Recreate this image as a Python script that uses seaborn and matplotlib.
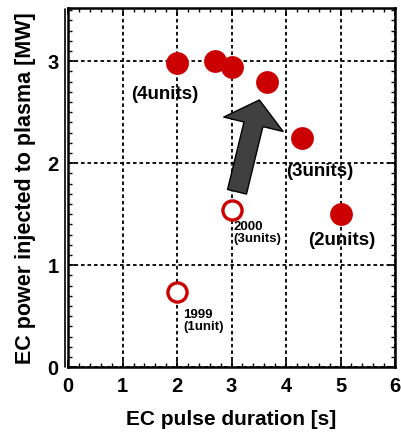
import matplotlib
matplotlib.use("Agg")
import matplotlib.pyplot as plt
import seaborn as sns
import pandas as pd
from matplotlib.lines import Line2D
from matplotlib.ticker import MultipleLocator

# Achieved EC operation: pulse duration [s] vs. injected power [MW]
recent_duration = [2.0, 2.7, 3.0, 3.65, 4.3, 5.0]
recent_power = [2.98, 3.0, 2.94, 2.8, 2.25, 1.5]

early_duration = [2.0, 3.0]
early_power = [0.74, 1.54]

x_ticks = [0, 1, 2, 3, 4, 5, 6]
y_ticks = [0, 1, 2, 3]

red = "#CC0000"

sns.set_theme(style="white")
plt.rcParams["font.family"] = ["Liberation Sans", "DejaVu Sans"]
plt.rcParams["font.weight"] = "bold"
plt.rcParams["text.color"] = "black"
plt.rcParams["axes.labelcolor"] = "black"
plt.rcParams["xtick.color"] = "black"
plt.rcParams["ytick.color"] = "black"

fig = plt.figure(figsize=(4.01, 4.32), dpi=100)
ax = fig.add_axes([0.170, 0.150, 0.815, 0.831])

recent = pd.DataFrame({"duration": recent_duration, "power": recent_power})
early = pd.DataFrame({"duration": early_duration, "power": early_power})

sns.scatterplot(data=recent, x="duration", y="power", ax=ax, s=270,
                color=red, edgecolor=red, linewidth=0, zorder=4)
sns.scatterplot(data=early, x="duration", y="power", ax=ax, s=190,
                facecolor="white", edgecolor=red, linewidth=2.4, zorder=4)

ax.set_xlim(0, 6)
ax.set_ylim(0, 3.52)
ax.set_xticks(x_ticks)
ax.set_yticks(y_ticks)
ax.xaxis.set_minor_locator(MultipleLocator(0.2))
ax.yaxis.set_minor_locator(MultipleLocator(0.1))
ax.tick_params(which="both", direction="in", top=True, right=True,
               bottom=True, left=True, color="black", labelcolor="black")
ax.tick_params(which="major", length=5, width=1.2, labelsize=14.5, pad=7)
ax.tick_params(which="minor", length=3, width=1.0)
for lbl in ax.get_xticklabels() + ax.get_yticklabels():
    lbl.set_fontweight("bold")

ax.grid(True, which="major", color="black", linestyle=(0, (2, 1.6)),
        linewidth=1.3, zorder=1)
ax.set_axisbelow(True)
for sp in ax.spines.values():
    sp.set_color("black")
    sp.set_linewidth(1.8)

# second thin rule just outside the left spine
ax.add_line(Line2D([-0.009, -0.009], [0, 0.997], transform=ax.transAxes,
                   color="black", linewidth=1.2, clip_on=False))

ax.set_xlabel("EC pulse duration [s]", fontsize=15, fontweight="bold",
              labelpad=10, color="black")
ax.set_ylabel("EC power injected to plasma [MW]", fontsize=15.5,
              fontweight="bold", labelpad=8, color="black")

# Progress arrow
ax.annotate("", xy=(3.51, 2.62), xytext=(3.10, 1.72),
            arrowprops=dict(width=14, headwidth=44, headlength=18, shrink=0,
                            facecolor="#404040", edgecolor="black", linewidth=1),
            zorder=5)

# Unit annotations
ax.text(1.78, 2.67, "(4units)", fontsize=13.5, fontweight="bold", ha="center", va="center")
ax.text(4.62, 1.92, "(3units)", fontsize=13.5, fontweight="bold", ha="center", va="center")
ax.text(5.03, 1.245, "(2units)", fontsize=13.5, fontweight="bold", ha="center", va="center")
ax.text(3.03, 1.43, "2000\n(3units)", fontsize=9.5, fontweight="bold",
        ha="left", va="top", linespacing=1.0)
ax.text(2.11, 0.57, "1999\n(1unit)", fontsize=9.5, fontweight="bold",
        ha="left", va="top", linespacing=1.0)

fig.savefig("out.png", dpi=100)
